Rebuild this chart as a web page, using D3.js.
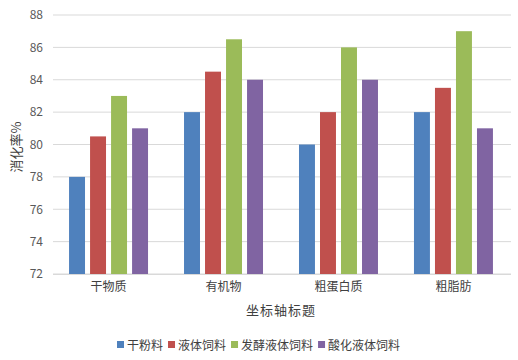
<!DOCTYPE html>
<html><head><meta charset="utf-8">
<script src="https://cdn.jsdelivr.net/npm/d3@7"></script>
<style>body{margin:0;background:#fff;} text{font-family:"Noto Sans CJK SC","Noto Sans",sans-serif;}</style>
</head><body><svg id="c" width="518" height="360"></svg>
<script>
const categories = ["干物质","有机物","粗蛋白质","粗脂肪"];
const seriesNames = ["干粉料","液体饲料","发酵液体饲料","酸化液体饲料"];
const s1 = [78, 82, 80, 82];
const s2 = [80.5, 84.5, 82, 83.5];
const s3 = [83, 86.5, 86, 87];
const s4 = [81, 84, 84, 81];
const yTicks = [72,74,76,78,80,82,84,86,88];
const colors = ["#4f81bd","#c0504d","#9bbb59","#8064a2"];
const series = [s1,s2,s3,s4];

const svg = d3.select("#c");
const pLeft = 51, pRight = 511, pTop = 15, pBottom = 274;
const x = d3.scaleBand().domain(categories).range([pLeft,pRight]).paddingInner(0.313).paddingOuter(0.157);
const xs = d3.scaleBand().domain(seriesNames).range([0,x.bandwidth()]).paddingInner(0.24);
const y = d3.scaleLinear().domain([72,88]).range([pBottom,pTop]);

// grid
svg.append("g").selectAll("line").data(yTicks).join("line")
  .attr("x1",53).attr("x2",pRight).attr("y1",d=>y(d)).attr("y2",d=>y(d))
  .attr("stroke","#d9d9d9").attr("stroke-width",1);

const yAxis = d3.axisLeft(y).tickValues(yTicks).tickSize(0).tickPadding(0);
const gy = svg.append("g").attr("transform","translate(43,0)").call(yAxis);
gy.select(".domain").remove();
gy.selectAll("text").attr("fill","#595959").style("font-size","12px").attr("font-family","Noto Sans CJK SC");

const groups = svg.append("g").selectAll("g").data(categories).join("g")
  .attr("transform",d=>`translate(${x(d)},0)`);
groups.selectAll("rect").data((d,i)=>series.map((s,j)=>({name:seriesNames[j],v:s[i],j})))
  .join("rect")
  .attr("x",d=>xs(d.name)).attr("width",xs.bandwidth())
  .attr("y",d=>y(d.v)).attr("height",d=>pBottom-y(d.v))
  .attr("fill",d=>colors[d.j]);

const xAxis = d3.axisBottom(x).tickSize(0).tickPadding(8);
const gx = svg.append("g").attr("transform",`translate(0,${pBottom})`).call(xAxis);
gx.select(".domain").attr("stroke","#d9d9d9").attr("d",`M53,0.5H${pRight}`);
gx.selectAll("text").attr("fill","#404040").style("font-size","12px").attr("font-family","Noto Sans CJK SC");

svg.append("text").attr("x",281).attr("y",315).attr("text-anchor","middle")
  .attr("fill","#404040").style("font-size","13px").style("letter-spacing","1px").text("坐标轴标题");
svg.append("text").attr("transform","translate(21,147) rotate(-90)").attr("text-anchor","middle")
  .attr("fill","#404040").style("font-size","13px").text("消化率%");

// legend
const lg = svg.append("g");
let lx = 117;
seriesNames.forEach((n,i)=>{
  lg.append("rect").attr("x",lx).attr("y",341).attr("width",7).attr("height",7).attr("fill",colors[i]);
  const t = lg.append("text").attr("x",lx+10).attr("y",349.5).attr("fill","#404040").style("font-size","12px").text(n);
  lx += 10 + t.node().getComputedTextLength() + 5;
});
</script></body></html>
